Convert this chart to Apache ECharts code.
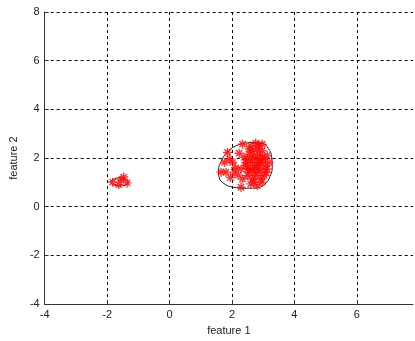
<!DOCTYPE html>
<html><head><meta charset="utf-8">
<script src="https://cdn.jsdelivr.net/npm/echarts@6/dist/echarts.min.js"></script>
<style>html,body{margin:0;padding:0;background:#fff}#c{width:415px;height:341px}</style>
</head><body><div id="c"></div>
<script>
var xTicks = [-4, -2, 0, 2, 4, 6];
var yTicks = [-4, -2, 0, 2, 4, 6, 8];
var clusterA = [[2.34,2.57],[2.76,2.61],[2.97,2.57],[1.86,2.23],[2.23,2.20],[2.02,1.82],[1.76,1.82],[1.65,1.42],[1.81,1.42],[2.07,1.42],[2.29,1.55],[2.34,1.14],[2.29,0.80],[2.81,0.87],[2.97,1.01],[3.19,1.82],[3.13,2.10],[2.55,2.37],[2.60,1.82],[2.71,1.69],[2.81,1.96],[2.87,1.42],[2.50,1.28],[2.66,1.14],[2.92,1.55],[3.03,1.28],[2.71,2.10],[2.50,1.96],[2.60,1.55],[2.76,1.28],[2.87,1.82],[2.97,2.03],[3.08,1.69],[2.55,2.16],[2.81,2.37],[2.97,2.30],[2.60,0.94],[2.44,1.69],[2.39,2.03],[2.66,2.30],[2.76,1.55],[2.92,1.14],[2.66,1.96],[2.87,2.16],[3.03,1.96],[2.55,1.42],[2.71,1.01],[2.44,1.82],[2.81,1.69],[3.13,1.55],[2.60,2.50],[2.92,1.82],[2.71,1.42],[2.50,1.55],[1.92,1.96],[2.12,1.60],[2.20,1.30],[1.95,1.20],[3.10,1.40],[2.85,2.50]];
var clusterB = [[-1.82,1.01],[-1.63,0.91],[-1.47,1.22],[-1.36,0.98],[-1.55,1.10]];
var contourA = [[2.34,2.60],[2.66,2.64],[2.97,2.60],[3.16,2.40],[3.27,2.05],[3.29,1.65],[3.22,1.25],[3.05,0.93],[2.75,0.77],[2.40,0.76],[2.05,0.80],[1.75,0.95],[1.59,1.20],[1.57,1.50],[1.65,1.85],[1.82,2.20],[2.05,2.45],[2.34,2.60]];
var contourB = [[-1.90,1.00],[-1.80,1.12],[-1.62,1.18],[-1.42,1.14],[-1.32,1.02],[-1.40,0.90],[-1.60,0.86],[-1.80,0.90],[-1.90,1.00]];

var star = 'path://M0,-10L0,10M-10,0L10,0M-7,-7L7,7M-7,7L7,-7';
function scat(d){return {type:'scatter',data:d,symbol:star,symbolSize:9,
  itemStyle:{color:'rgba(0,0,0,0)',borderColor:'#ff0000',borderWidth:1.4},z:3,silent:true};}
function cont(d){return {type:'line',data:d,smooth:0.5,showSymbol:false,symbol:'none',
  lineStyle:{color:'#222',width:1},z:2,silent:true};}
var gl = {color:'#000',type:[3,3],width:1};
var chart = echarts.init(document.getElementById('c'));
chart.setOption({
  animation:false,
  grid:{left:43,right:2,top:12,bottom:34,containLabel:false},
  xAxis:{type:'value',min:-4,max:7.8,interval:2,
    name:'feature 1',nameLocation:'middle',nameGap:18,
    nameTextStyle:{fontFamily:'Liberation Sans',fontSize:11,color:'#222'},
    axisLine:{show:true,onZero:false,lineStyle:{color:'#333'}},
    axisTick:{show:true,inside:true,length:4,lineStyle:{color:'#333'}},
    axisLabel:{fontFamily:'Liberation Sans',fontSize:11,color:'#222',margin:5,showMaxLabel:false,
      formatter:function(v){return xTicks.indexOf(v)>=0?String(v):'';}},
    splitLine:{show:true,showMaxLine:false,lineStyle:gl}},
  yAxis:{type:'value',min:-4,max:8,interval:2,
    name:'feature 2',nameLocation:'middle',nameGap:22,
    nameTextStyle:{fontFamily:'Liberation Sans',fontSize:11,color:'#222'},
    axisLine:{show:true,onZero:false,lineStyle:{color:'#333'}},
    axisTick:{show:true,inside:true,length:4,lineStyle:{color:'#333'}},
    axisLabel:{fontFamily:'Liberation Sans',fontSize:11,color:'#222',margin:5,
      formatter:function(v){return yTicks.indexOf(v)>=0?String(v):'';}},
    splitLine:{show:true,lineStyle:gl}},
  series:[cont(contourA),cont(contourB),scat(clusterA),scat(clusterB)]
});
</script></body></html>
